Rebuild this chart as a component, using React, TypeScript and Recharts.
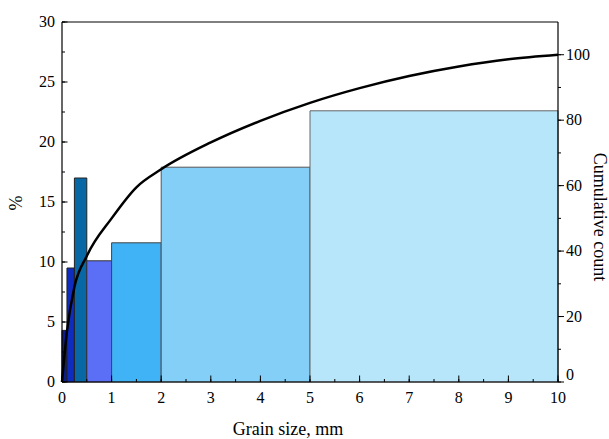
import React from 'react';
import {
  ComposedChart,
  Line,
  Scatter,
  XAxis,
  YAxis,
  ReferenceArea,
  ReferenceLine,
  Label,
} from 'recharts';

// histogram bins (mm) and their share in %
const binStart = [0, 0.1, 0.25, 0.5, 1, 2, 5];
const binEnd = [0.1, 0.25, 0.5, 1, 2, 5, 10];
const binPercent = [4.3, 9.5, 17.0, 10.1, 11.6, 17.9, 22.6];
const binColors = ['#0c1d8c', '#0e2dbf', '#0868a6', '#5b6ef6', '#3fb3f6', '#84cff7', '#b7e6fb'];
const binStroke = ['#222', '#222', '#222', '#333', '#444', '#555', '#666'];

// cumulative curve
const curveSize = [0, 0.1, 0.25, 0.5, 1, 1.5, 2, 3, 4, 5, 6, 7, 8, 9, 10];
const curveCount = [0, 15.5, 29, 38.5, 50, 59.5, 65, 73.2, 79.8, 85.3, 89.8, 93.5, 96.4, 98.6, 100];

const xTicks = [0, 0.5, 1, 1.5, 2, 2.5, 3, 3.5, 4, 4.5, 5, 5.5, 6, 6.5, 7, 7.5, 8, 8.5, 9, 9.5, 10];
const leftTicks = [0, 2.5, 5, 7.5, 10, 12.5, 15, 17.5, 20, 22.5, 25, 27.5, 30];
const rightTicks = [0, 10, 20, 30, 40, 50, 60, 70, 80, 90, 100];

const curveData = curveSize.map((s, i) => ({ size: s, count: curveCount[i] }));
const binData = binStart.map((s, i) => ({ size: (s + binEnd[i]) / 2, pct: binPercent[i] }));

const font = '"Liberation Serif", "Times New Roman", serif';
const tickStyle = { stroke: '#000', strokeWidth: 1 };

// built-in tick lines give the short (minor) marks, majors get an extra stroke here
const BottomTick = (props: any) => {
  const { x, payload } = props;
  const major = Number.isInteger(payload.value);
  if (!major) return <g />;
  return (
    <g>
      <line x1={x} x2={x} y1={382} y2={375.5} stroke="#000" strokeWidth={1} />
      <text x={x} y={403} textAnchor="middle" fontSize={16} fontFamily={font} fill="#000">
        {payload.value}
      </text>
    </g>
  );
};

const LeftTick = (props: any) => {
  const { y, payload } = props;
  const major = payload.value % 5 === 0;
  if (!major) return <g />;
  return (
    <g>
      <line x1={62} x2={67.5} y1={y} y2={y} stroke="#000" strokeWidth={1} />
      <text x={55} y={y + 5} textAnchor="end" fontSize={16} fontFamily={font} fill="#000">
        {payload.value}
      </text>
    </g>
  );
};

const RightTick = (props: any) => {
  const { y, payload } = props;
  const major = payload.value % 20 === 0;
  if (!major) return <g />;
  return (
    <g>
      <line x1={558} x2={564} y1={y} y2={y} stroke="#000" strokeWidth={1} />
      <text
        x={566}
        y={y + 5 - (payload.value === 0 ? 7 : 0)}
        textAnchor="start"
        fontSize={16}
        fontFamily={font}
        fill="#000"
      >
        {payload.value}
      </text>
    </g>
  );
};

export default function App() {
  return (
    <div style={{ position: 'absolute', left: 0, top: 0, width: 609, height: 439, background: '#fff' }}>
      <ComposedChart
        width={609}
        height={439}
        data={curveData}
        margin={{ top: 22, right: 0, bottom: 0, left: 0 }}
      >
        {/* keeps the left axis active; the bins themselves are drawn as areas */}
        <Scatter
          yAxisId="left"
          data={binData}
          dataKey="pct"
          shape={() => <g />}
          isAnimationActive={false}
        />

        {binStart.map((s, i) => (
          <ReferenceArea
            key={i}
            yAxisId="left"
            x1={s}
            x2={binEnd[i]}
            y1={0}
            y2={binPercent[i]}
            fill={binColors[i]}
            fillOpacity={1}
            stroke={binStroke[i]}
            strokeWidth={1}
            ifOverflow="visible"
          />
        ))}

        <ReferenceLine yAxisId="left" y={30} stroke="#000" strokeWidth={1.2} ifOverflow="visible" />

        <XAxis
          dataKey="size"
          type="number"
          domain={[0, 10]}
          ticks={xTicks}
          interval={0}
          height={57}
          tickSize={-3}
          tickMargin={0}
          tickLine={tickStyle}
          tick={BottomTick}
          axisLine={{ stroke: '#000', strokeWidth: 1.2 }}
        >
          <Label
            content={({ viewBox }: any) => (
              <text
                x={viewBox.x + viewBox.width / 2 - 22}
                y={viewBox.y + 53}
                textAnchor="middle"
                fontSize={18}
                fontFamily={font}
                fill="#000"
              >
                Grain size, mm
              </text>
            )}
          />
        </XAxis>
        <YAxis
          yAxisId="left"
          orientation="left"
          type="number"
          domain={[0, 30]}
          ticks={leftTicks}
          interval={0}
          width={62}
          tickSize={-3}
          tickMargin={0}
          tickLine={tickStyle}
          tick={LeftTick}
          axisLine={{ stroke: '#000', strokeWidth: 1.2 }}
        >
          <Label
            content={({ viewBox }: any) => {
              const cx = viewBox.x + 22;
              const cy = viewBox.y + viewBox.height / 2 + 1;
              return (
                <text
                  x={cx}
                  y={cy}
                  transform={`rotate(-90 ${cx} ${cy})`}
                  textAnchor="middle"
                  fontSize={18}
                  fontFamily={font}
                  fill="#000"
                >
                  %
                </text>
              );
            }}
          />
        </YAxis>
        <YAxis
          yAxisId="right"
          orientation="right"
          type="number"
          domain={[0, 110]}
          ticks={rightTicks}
          interval={0}
          width={51}
          tickSize={3}
          tickMargin={0}
          tickLine={tickStyle}
          tick={RightTick}
          axisLine={{ stroke: '#000', strokeWidth: 1.2 }}
        >
          <Label
            content={({ viewBox }: any) => {
              const cx = viewBox.x + 36;
              const cy = viewBox.y + viewBox.height / 2 + 15;
              return (
                <text
                  x={cx}
                  y={cy}
                  transform={`rotate(90 ${cx} ${cy})`}
                  textAnchor="middle"
                  fontSize={18}
                  fontFamily={font}
                  fill="#000"
                >
                  Cumulative count
                </text>
              );
            }}
          />
        </YAxis>

        <Line
          yAxisId="right"
          dataKey="count"
          type="monotone"
          stroke="#000"
          strokeWidth={2.5}
          dot={false}
          activeDot={false}
          isAnimationActive={false}
        />
      </ComposedChart>
    </div>
  );
}
